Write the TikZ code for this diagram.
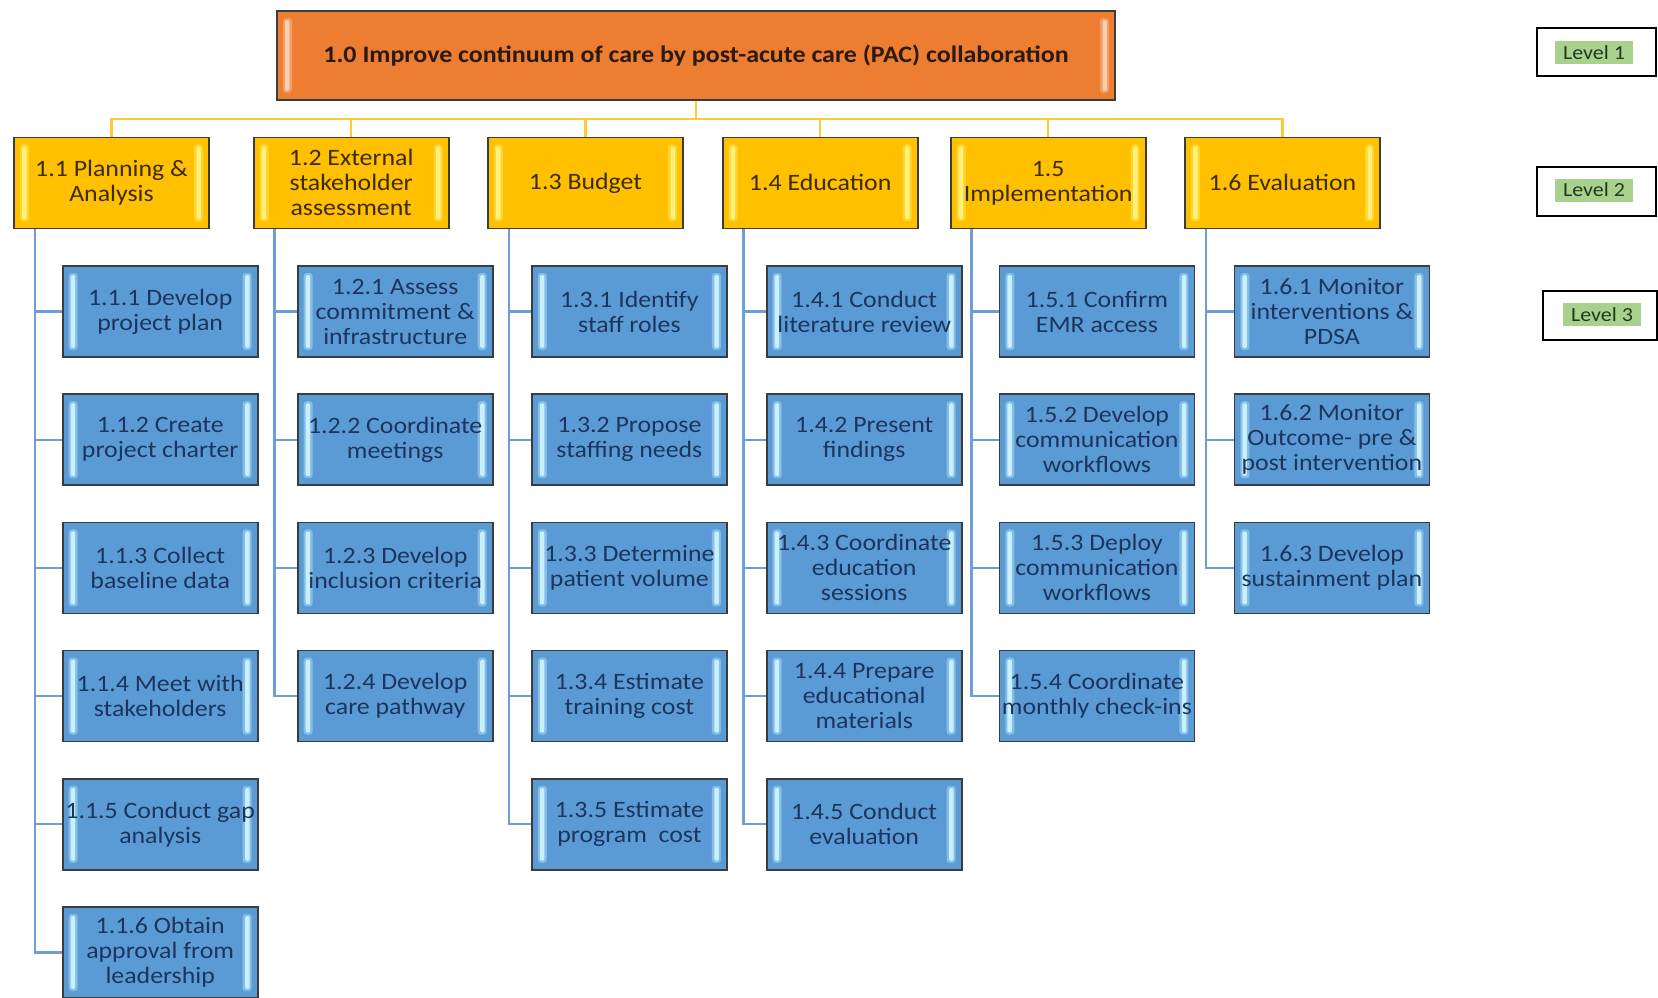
\documentclass[tikz,border=0pt]{standalone}
\usepackage{fontspec}
\setmainfont{Carlito}[FakeStretch=1.1]
\usetikzlibrary{backgrounds}
\definecolor{orangefill}{HTML}{ED7D31}
\definecolor{orangehl}{HTML}{F9CFAE}
\definecolor{goldfill}{HTML}{FFC000}
\definecolor{goldhl}{HTML}{FFF27C}
\definecolor{bluefill}{HTML}{5B9BD5}
\definecolor{bluehl}{HTML}{C9F0FD}
\definecolor{edgecol}{HTML}{3C3C3C}
\definecolor{navytext}{HTML}{1C355E}
\definecolor{browntext}{HTML}{3D2B05}
\definecolor{toptext}{HTML}{2A1A10}
\definecolor{ylink}{HTML}{FFC935}
\definecolor{blink}{HTML}{6D9ED6}
\definecolor{labgreen}{HTML}{A9D18E}
\definecolor{labtext}{HTML}{24381C}
\newcommand\bx[1]{\makebox[0pt]{#1}}
\newcommand\bevel[1]{%
  \fill[#1,opacity=0.4,rounded corners=3pt] ([xshift=6pt,yshift=-7pt]path picture bounding box.north west) rectangle ([xshift=15pt,yshift=7pt]path picture bounding box.south west);
  \fill[#1,opacity=0.4,rounded corners=3pt] ([xshift=-6pt,yshift=-7pt]path picture bounding box.north east) rectangle ([xshift=-15pt,yshift=7pt]path picture bounding box.south east);
  \fill[#1,rounded corners=2pt] ([xshift=8pt,yshift=-9pt]path picture bounding box.north west) rectangle ([xshift=12.5pt,yshift=9pt]path picture bounding box.south west);
  \fill[#1,rounded corners=2pt] ([xshift=-8pt,yshift=-9pt]path picture bounding box.north east) rectangle ([xshift=-12.5pt,yshift=9pt]path picture bounding box.south east);
}
\tikzset{
  box/.style={draw=edgecol, line width=1.6pt, inner sep=0pt, align=center},
  lvone/.style={box, fill=orangefill, minimum width=838pt, minimum height=89pt,
    font=\bfseries\fontsize{23.6}{26}\selectfont, text=toptext, path picture={\bevel{orangehl}}},
  lvtwo/.style={box, fill=goldfill, minimum width=195pt, minimum height=91pt,
    font=\fontsize{23.5}{25}\selectfont, text=browntext, path picture={\bevel{goldhl}}},
  lvthree/.style={box, fill=bluefill, minimum width=195pt, minimum height=91pt,
    font=\fontsize{23.5}{25}\selectfont, text=navytext, path picture={\bevel{bluehl}}},
  labbox/.style={draw=black, line width=1.6pt, inner sep=0pt},
  labtxt/.style={fill=labgreen, inner sep=0pt, minimum width=78pt, minimum height=23pt,
    font=\fontsize{20}{22}\selectfont, text=labtext},
  yconn/.style={draw=ylink, line width=2.2pt},
  bconn/.style={draw=blink, line width=2.2pt},
}
\begin{document}
\begin{tikzpicture}[x=1pt,y=-1pt]
\useasboundingbox (0,0) rectangle (1658,997);

% Level 1
\node[lvone] (top) at (696,55.5) {1.0 Improve continuum of care by post-acute care (PAC) collaboration};

% Level 2
\node[lvtwo] (p1) at (111.5,182.9) {\bx{1.1 Planning \&}\\\bx{Analysis}};
\node[lvtwo] (p2) at (351.2,182.9) {\bx{1.2 External}\\\bx{stakeholder}\\\bx{assessment}};
\node[lvtwo] (p3) at (585.5,182.9) {\bx{1.3 Budget}};
\node[lvtwo] (p4) at (820.2,182.9) {\bx{1.4 Education}};
\node[lvtwo] (p5) at (1048.2,182.9) {\bx{1.5}\\\bx{Implementation}};
\node[lvtwo] (p6) at (1282.5,182.9) {\bx{1.6 Evaluation}};

% Level 3 - column 1
\node[lvthree] (c11) at (160.2,311.5) {\bx{1.1.1 Develop}\\\bx{project plan}};
\node[lvthree] (c12) at (160.2,439.7) {\bx{1.1.2 Create}\\\bx{project charter}};
\node[lvthree] (c13) at (160.2,567.9) {\bx{1.1.3 Collect}\\\bx{baseline data}};
\node[lvthree] (c14) at (160.2,696.1) {\bx{1.1.4 Meet with}\\\bx{stakeholders}};
\node[lvthree] (c15) at (160.2,824.3) {\bx{1.1.5 Conduct gap}\\\bx{analysis}};
\node[lvthree] (c16) at (160.2,952.5) {\bx{1.1.6 Obtain}\\\bx{approval from}\\\bx{leadership}};
% column 2
\node[lvthree] (c21) at (395.2,311.5) {\bx{1.2.1 Assess}\\\bx{commitment \&}\\\bx{infrastructure}};
\node[lvthree] (c22) at (395.2,439.7) {\bx{1.2.2 Coordinate}\\\bx{meetings}};
\node[lvthree] (c23) at (395.2,567.9) {\bx{1.2.3 Develop}\\\bx{inclusion criteria}};
\node[lvthree] (c24) at (395.2,696.1) {\bx{1.2.4 Develop}\\\bx{care pathway}};
% column 3
\node[lvthree] (c31) at (629.4,311.5) {\bx{1.3.1 Identify}\\\bx{staff roles}};
\node[lvthree] (c32) at (629.4,439.7) {\bx{1.3.2 Propose}\\\bx{staffing needs}};
\node[lvthree] (c33) at (629.4,567.9) {\bx{1.3.3 Determine}\\\bx{patient volume}};
\node[lvthree] (c34) at (629.4,696.1) {\bx{1.3.4 Estimate}\\\bx{training cost}};
\node[lvthree] (c35) at (629.4,824.3) {\bx{1.3.5 Estimate}\\\bx{program\ \ cost}};
% column 4
\node[lvthree] (c41) at (864.2,311.5) {\bx{1.4.1 Conduct}\\\bx{literature review}};
\node[lvthree] (c42) at (864.2,439.7) {\bx{1.4.2 Present}\\\bx{findings}};
\node[lvthree] (c43) at (864.2,567.9) {\bx{1.4.3 Coordinate}\\\bx{education}\\\bx{sessions}};
\node[lvthree] (c44) at (864.2,696.1) {\bx{1.4.4 Prepare}\\\bx{educational}\\\bx{materials}};
\node[lvthree] (c45) at (864.2,824.3) {\bx{1.4.5 Conduct}\\\bx{evaluation}};
% column 5
\node[lvthree] (c51) at (1096.9,311.5) {\bx{1.5.1 Confirm}\\\bx{EMR access}};
\node[lvthree] (c52) at (1096.9,439.7) {\bx{1.5.2 Develop}\\\bx{communication}\\\bx{workflows}};
\node[lvthree] (c53) at (1096.9,567.9) {\bx{1.5.3 Deploy}\\\bx{communication}\\\bx{workflows}};
\node[lvthree] (c54) at (1096.9,696.1) {\bx{1.5.4 Coordinate}\\\bx{monthly check-ins}};
% column 6
\node[lvthree] (c61) at (1331.9,311.5) {\bx{1.6.1 Monitor}\\\bx{interventions \&}\\\bx{PDSA}};
\node[lvthree] (c62) at (1331.9,439.7) {\bx{1.6.2 Monitor}\\\bx{Outcome- pre \&}\\\bx{post intervention}};
\node[lvthree] (c63) at (1331.9,567.9) {\bx{1.6.3 Develop}\\\bx{sustainment plan}};

% Level legend
\node[labbox, minimum width=119pt, minimum height=48pt] (lb1) at (1596.5,52) {};
\node[labtxt] (lab1) at (1594,52.6) {Level 1};
\node[labbox, minimum width=119pt, minimum height=49pt] (lb2) at (1596.5,191.2) {};
\node[labtxt] (lab2) at (1594,190) {Level 2};
\node[labbox, minimum width=114pt, minimum height=49pt] (lb3) at (1599.8,315.5) {};
\node[labtxt] (lab3) at (1602,314.3) {Level 3};

% Connectors (behind the boxes, above a white background)
\coordinate (bus) at (0,119.3);
\begin{scope}[on background layer]
\fill[white] (0,0) rectangle (1658,997);
\foreach \i in {1,...,6}{
  \draw[yconn] (top.south) -- (top.south |- bus) -| (p\i.north);
}
\foreach \c/\n in {1/6,2/4,3/5,4/5,5/4,6/3}{
  \foreach \k in {1,...,\n}{
    \draw[bconn] ([xshift=21.5pt]p\c.south west) |- (c\c\k.west);
  }
}
\end{scope}
\end{tikzpicture}
\end{document}
